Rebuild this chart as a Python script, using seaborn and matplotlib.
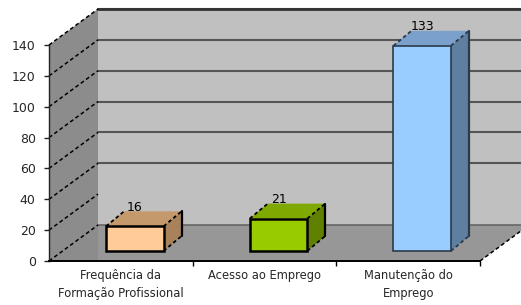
import matplotlib
matplotlib.use("Agg")
import matplotlib.pyplot as plt
from matplotlib.patches import Polygon
import seaborn as sns

categories = ["Frequência da\nFormação Profissional", "Acesso ao Emprego", "Manutenção do\nEmprego"]
values = [16, 21, 133]
front_colors = ["#FFCC99", "#99CC00", "#99CCFF"]
top_colors = ["#C49A6C", "#7FA800", "#7BA0CC"]
side_colors = ["#A8825A", "#5F8000", "#5F7FA0"]
edge_colors = ["black", "black", "#2a3a4a"]
y_ticks = [0, 20, 40, 60, 80, 100, 120, 140]

sns.set_theme(style="white")
plt.rcParams["font.family"] = ["DejaVu Sans"]

fig = plt.figure(figsize=(5.21, 3.05), dpi=100)
ax = fig.add_axes([49 / 521, 44 / 305, 431 / 521, 216 / 305])
ax.set_facecolor("none")

sns.barplot(x=categories, y=values, hue=categories, palette=front_colors, legend=False,
            width=0.4, ax=ax, zorder=5, saturation=1)
ax.set_xlim(-0.5, 2.5)
ax.set_ylim(0, 140)

# pixels per unit on each axis, used for the oblique depth offsets
ppx = 431 / 3
ppy = 216 / 140
def off(px, py):
    return px / ppx, py / ppy

wd, wh = off(49, 36)        # wall depth
fx, fy = off(14, 10)        # bar front plane
bx, by = off(18, 15)        # bar depth

x0, x1 = -0.5, 2.5
ymax = 140

# walls and floor
ax.add_patch(Polygon([(x0 + wd, wh), (x1 + wd + 1, wh), (x1 + wd + 1, ymax + wh), (x0 + wd, ymax + wh)],
                     closed=True, facecolor="#C0C0C0", edgecolor="none", clip_on=False, zorder=0))
ax.add_patch(Polygon([(x0, 0), (x1, 0), (x1 + wd, wh), (x0 + wd, wh)],
                     closed=True, facecolor="#979797", edgecolor="none", clip_on=False, zorder=0.5))
ax.add_patch(Polygon([(x0, 0), (x0, ymax), (x0 + wd, ymax + wh), (x0 + wd, 0)],
                     closed=True, facecolor="#8C8C8C", edgecolor="none", clip_on=False, zorder=0.6))

# gridlines on the back wall
for t in y_ticks:
    if t >= 40:
        ax.plot([x0 + wd, x1 + wd + 1], [t + wh, t + wh], color="#555555", lw=1.5,
                clip_on=False, zorder=1)
ax.plot([x0 + wd, x1 + wd + 1], [ymax + wh, ymax + wh], color="#333333", lw=2,
        clip_on=False, zorder=1)
ax.plot([x0 + wd, x1 + wd + 1], [wh, wh], color="#666666", lw=1.2, clip_on=False, zorder=1)

# dashed gridlines on the side wall
for t in y_ticks:
    ax.plot([x0, x0 + wd], [t, t + wh], color="black", lw=1.1, ls=(0, (2.5, 1.8)),
            clip_on=False, zorder=1.2)
ax.plot([x1, x1 + wd], [0, wh], color="black", lw=1.1, ls=(0, (2.5, 1.8)),
        clip_on=False, zorder=1.2)

# 3d faces of the bars
for i, (p, v) in enumerate(zip(ax.patches, values)):
    p.set_x(p.get_x() + fx)
    p.set_y(p.get_y() + fy)
    p.set_edgecolor(edge_colors[i])
    p.set_linewidth(1.8 if i < 2 else 1.2)
    L, R = p.get_x(), p.get_x() + p.get_width()
    B, T = fy, fy + v
    ax.add_patch(Polygon([(L, T), (R, T), (R + bx, T + by), (L + bx, T + by)], closed=True,
                         facecolor=top_colors[i], edgecolor="none", clip_on=False, zorder=4))
    ax.add_patch(Polygon([(R, B), (R + bx, B + by), (R + bx, T + by), (R, T)], closed=True,
                         facecolor=side_colors[i], edgecolor="none", clip_on=False, zorder=4))
    for (xa, ya), (xb, yb) in [((L, T), (L + bx, T + by)), ((R, T), (R + bx, T + by)),
                               ((R, B), (R + bx, B + by))]:
        ax.plot([xa, xb], [ya, yb], color=edge_colors[i], lw=1.3, ls=(0, (2, 1.5)),
                clip_on=False, zorder=4.5)
    ax.plot([R + bx, R + bx], [B + by, T + by], color=edge_colors[i], lw=1.6,
            clip_on=False, zorder=4.5)
    ax.text(i + fx, T + by - 1.5, str(v), ha="center", va="bottom", fontsize=9, color="black",
            zorder=6)

# axes
for s in ["top", "right"]:
    ax.spines[s].set_visible(False)
ax.spines["left"].set_color("#222222")
ax.spines["left"].set_linewidth(1.0)
ax.spines["bottom"].set_color("black")
ax.spines["bottom"].set_linewidth(1.4)
ax.spines["left"].set_zorder(7)
ax.spines["bottom"].set_zorder(7)
ax.set_yticks(y_ticks)
ax.tick_params(axis="y", length=3.6, width=1, color="#222222", pad=6, labelsize=9,
               left=True, direction="out")
ax.set_xticks([0.5, 1.5, 2.5], minor=True)
ax.tick_params(axis="x", which="major", length=0, pad=6, labelsize=8.3)
for lab in ax.get_xticklabels():
    lab.set_linespacing(1.45)
ax.tick_params(axis="x", which="minor", length=3.6, width=1, color="black", bottom=True,
               direction="out")
ax.set_xlabel("")
ax.set_ylabel("")
ax.grid(False)

fig.savefig("out.png", dpi=100)
